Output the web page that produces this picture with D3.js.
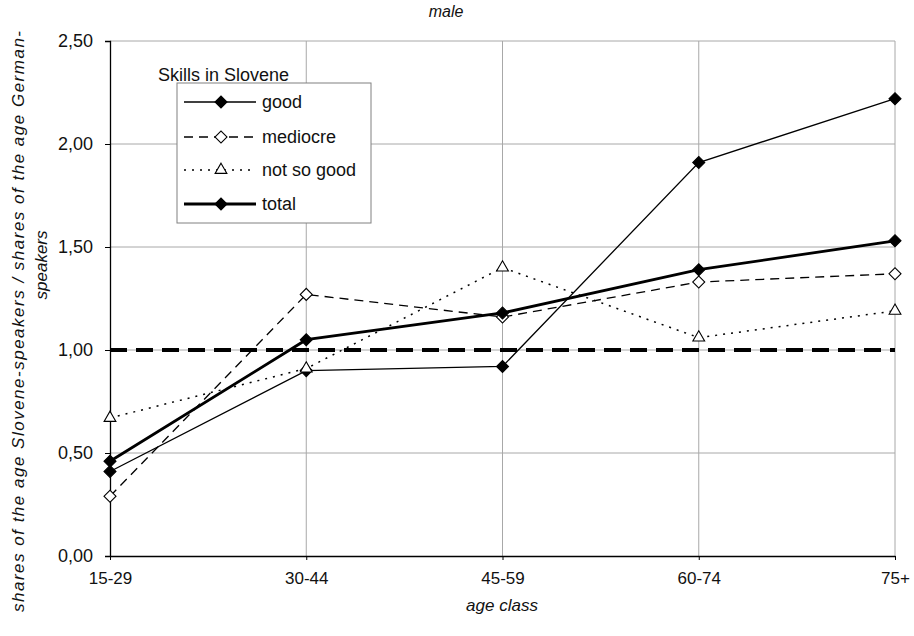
<!DOCTYPE html>
<html>
<head>
<meta charset="utf-8">
<script src="https://cdn.jsdelivr.net/npm/d3@7"></script>
<style>
  body { margin: 0; background: #fff; }
  svg text { font-family: "Liberation Sans", Arial, sans-serif; fill: #111; }
</style>
</head>
<body>
<svg id="chart" width="914" height="636"></svg>
<script>
'use strict';

// age classes on the x axis
var ageClasses = ['15-29', '30-44', '45-59', '60-74', '75+'];
var yTicks = [0, 0.5, 1, 1.5, 2, 2.5];

// ratio of shares
var good = [0.41, 0.90, 0.92, 1.91, 2.22];
var mediocre = [0.29, 1.27, 1.16, 1.33, 1.37];
var notSoGood = [0.67, 0.91, 1.40, 1.06, 1.19];
var total = [0.46, 1.05, 1.18, 1.39, 1.53];
var parity = [1, 1, 1, 1, 1];

var svg = d3.select('#chart');

var x = d3.scalePoint().domain(ageClasses).range([110, 895]);
var y = d3.scaleLinear().domain([0, 2.5]).range([556, 41]);

// gridlines
svg.append('g').selectAll('line').data(yTicks.slice(1)).enter()
  .append('line')
  .attr('x1', x.range()[0]).attr('x2', x.range()[1])
  .attr('y1', d => y(d)).attr('y2', d => y(d))
  .attr('stroke', '#a8a8a8').attr('stroke-width', 1);
svg.append('g').selectAll('line').data(ageClasses.slice(1)).enter()
  .append('line')
  .attr('x1', d => x(d)).attr('x2', d => x(d))
  .attr('y1', y(0)).attr('y2', y(2.5))
  .attr('stroke', '#a8a8a8').attr('stroke-width', 1);

// axes
var yAxis = d3.axisLeft(y).tickValues(yTicks).tickSize(5)
  .tickFormat(d => d3.format('.2f')(d).replace('.', ','));
var gy = svg.append('g').attr('transform', 'translate(' + x.range()[0] + ',0)').call(yAxis);
gy.selectAll('text').attr('font-size', 18).attr('dx', -9);

var xAxis = d3.axisBottom(x).tickSize(4).tickSizeOuter(0);
var gx = svg.append('g').attr('transform', 'translate(0,' + y(0) + ')').call(xAxis);
gx.selectAll('text').attr('font-size', 17).attr('dy', 21);
[gx, gy].forEach(function(g) {
  g.select('.domain').attr('stroke', '#000').attr('stroke-width', 1.3);
  g.selectAll('.tick line').attr('stroke', '#000');
});

var line = d3.line().x((d, i) => x(ageClasses[i])).y(d => y(d));

// excel-like diamond = square turned 45 degrees
var diamond = d3.symbol().type(d3.symbolSquare).size(72);
var triangle = d3.symbol().type(d3.symbolTriangle).size(60);

var series = [
  { name: 'good', values: good, width: 1.3, dash: null, marker: diamond, rot: 45, fill: '#000' },
  { name: 'mediocre', values: mediocre, width: 1.3, dash: '9,6', marker: diamond, rot: 45, fill: '#fff' },
  { name: 'not so good', values: notSoGood, width: 1.5, dash: '2,6', marker: triangle, rot: 0, fill: '#fff' },
  { name: 'total', values: total, width: 2.8, dash: null, marker: diamond, rot: 45, fill: '#000' }
];

// thick dashed parity line at 1,00
svg.append('path').datum(parity)
  .attr('d', line).attr('fill', 'none')
  .attr('stroke', '#000').attr('stroke-width', 4)
  .attr('stroke-dasharray', '17,9');

series.forEach(function(s) {
  svg.append('path').datum(s.values)
    .attr('d', line).attr('fill', 'none')
    .attr('stroke', '#000').attr('stroke-width', s.width)
    .attr('stroke-dasharray', s.dash);
  svg.append('g').selectAll('path').data(s.values).enter()
    .append('path')
    .attr('d', s.marker)
    .attr('transform', (d, i) => 'translate(' + x(ageClasses[i]) + ',' + y(d) + ') rotate(' + s.rot + ')')
    .attr('fill', s.fill).attr('stroke', '#000').attr('stroke-width', 1.1);
});

// legend
var lg = svg.append('g');
lg.append('rect').attr('x', 177).attr('y', 83).attr('width', 194).attr('height', 140)
  .attr('fill', '#fff').attr('stroke', '#808080').attr('stroke-width', 1);
lg.append('text').attr('x', 158).attr('y', 81).attr('font-size', 18).text('Skills in Slovene');
var legendY = [102, 137, 170, 204];
series.forEach(function(s, i) {
  var ly = legendY[i];
  lg.append('line').attr('x1', 184).attr('x2', 256).attr('y1', ly).attr('y2', ly)
    .attr('stroke', '#000').attr('stroke-width', s.width).attr('stroke-dasharray', s.dash);
  lg.append('path').attr('d', s.marker).attr('transform', 'translate(221,' + ly + ') rotate(' + s.rot + ')')
    .attr('fill', s.fill).attr('stroke', '#000').attr('stroke-width', 1.1);
  lg.append('text').attr('x', 262).attr('y', ly + 6).attr('font-size', 18).text(s.name);
});

// titles
svg.append('text').attr('x', 446).attr('y', 17).attr('text-anchor', 'middle')
  .attr('font-size', 16).attr('font-style', 'italic').text('male');
svg.append('text').attr('x', 502).attr('y', 611).attr('text-anchor', 'middle')
  .attr('font-size', 17).attr('font-style', 'italic').text('age class');
svg.append('text').attr('transform', 'translate(24,612) rotate(-90)')
  .attr('font-size', 17).attr('font-style', 'italic').attr('letter-spacing', 1.5)
  .text('shares of the age Slovene-speakers / shares of the age German-');
svg.append('text').attr('transform', 'translate(47,265) rotate(-90)').attr('text-anchor', 'middle')
  .attr('font-size', 17).attr('font-style', 'italic').text('speakers');
</script>
</body>
</html>
